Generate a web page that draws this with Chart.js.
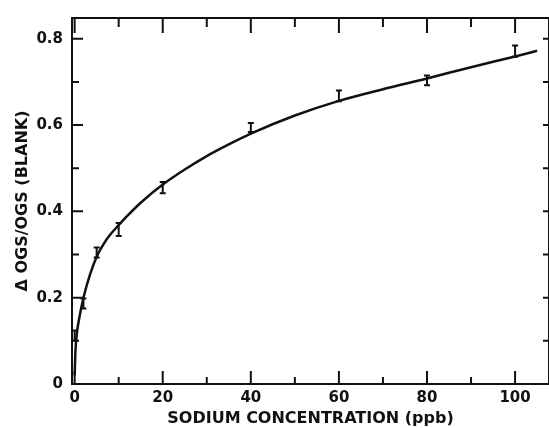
<!DOCTYPE html>
<html>
<head>
<meta charset="utf-8">
<script src="https://cdn.jsdelivr.net/npm/chart.js@4/dist/chart.umd.min.js"></script>
<style>
  html, body { margin: 0; padding: 0; background: #fff; }
  #wrap { width: 549px; height: 428px; }
</style>
</head>
<body>
<div id="wrap"><canvas id="myChart"></canvas></div>
<script>
// fitted curve
var curveX = [0, 0.2, 0.5, 1, 2, 3.5, 5, 6.5, 8, 10, 12, 15, 20, 25, 30, 35, 40, 50, 60, 70, 80, 90, 100, 105];
var curveY = [0.02, 0.08, 0.117, 0.15, 0.2, 0.254, 0.295, 0.323, 0.345, 0.368, 0.39, 0.42, 0.462, 0.497, 0.528, 0.555, 0.58, 0.622, 0.656, 0.683, 0.708, 0.734, 0.759, 0.772];

// measured points (error bars)
var sodium = [0, 2, 5, 10, 20, 40, 60, 80, 100];
var errLow = [0.101, 0.175, 0.293, 0.343, 0.442, 0.584, 0.655, 0.692, 0.758];
var errHigh = [0.124, 0.198, 0.316, 0.373, 0.468, 0.605, 0.680, 0.715, 0.784];

var xTickValues = [0, 10, 20, 30, 40, 50, 60, 70, 80, 90, 100];
var xTickLabels = ['0', '', '20', '', '40', '', '60', '', '80', '', '100'];
var yTickValues = [0, 0.1, 0.2, 0.3, 0.4, 0.5, 0.6, 0.7, 0.8];
var yTickLabels = ['0', '', '0.2', '', '0.4', '', '0.6', '', '0.8'];

var ink = '#111';
var fontFam = '"DejaVu Sans", sans-serif';

var errorBars = {
  id: 'errorBars',
  afterDatasetsDraw: function(chart) {
    var ctx = chart.ctx;
    var xs = chart.scales.x, ys = chart.scales.y;
    ctx.save();
    ctx.strokeStyle = ink;
    ctx.lineWidth = 2;
    for (var i = 0; i < sodium.length; i++) {
      var px = xs.getPixelForValue(sodium[i]);
      var y1 = ys.getPixelForValue(errLow[i]);
      var y2 = ys.getPixelForValue(errHigh[i]);
      ctx.beginPath();
      ctx.moveTo(px, y1); ctx.lineTo(px, y2);
      ctx.moveTo(px - 3, y1); ctx.lineTo(px + 3, y1);
      ctx.moveTo(px - 3, y2); ctx.lineTo(px + 3, y2);
      ctx.stroke();
    }
    ctx.restore();
  }
};

// box round the plot, ticks pointing inwards on all four sides
var frame = {
  id: 'frame',
  afterDraw: function(chart) {
    var ctx = chart.ctx, a = chart.chartArea;
    var xs = chart.scales.x, ys = chart.scales.y;
    ctx.save();
    ctx.strokeStyle = ink;
    ctx.lineWidth = 2;
    ctx.strokeRect(a.left, a.top, a.right - a.left, a.bottom - a.top);
    ctx.beginPath();
    xTickValues.forEach(function(v, i) {
      var px = xs.getPixelForValue(v);
      var len = xTickLabels[i] ? 13 : 7;
      ctx.moveTo(px, a.bottom); ctx.lineTo(px, a.bottom - len);
      ctx.moveTo(px, a.top); ctx.lineTo(px, a.top + len + 2);
    });
    yTickValues.forEach(function(v, i) {
      if (v === 0) return;
      var py = ys.getPixelForValue(v);
      var len = yTickLabels[i] ? 11 : 7;
      ctx.moveTo(a.left, py); ctx.lineTo(a.left + len, py);
      ctx.moveTo(a.right, py); ctx.lineTo(a.right - 6, py);
    });
    ctx.stroke();
    ctx.restore();
  }
};

var points = curveX.map(function(x, i) { return { x: x, y: curveY[i] }; });

new Chart(document.getElementById('myChart'), {
  type: 'scatter',
  data: {
    datasets: [{
      data: points,
      showLine: true,
      borderColor: ink,
      borderWidth: 2.5,
      pointRadius: 0,
      cubicInterpolationMode: 'monotone',
      fill: false
    }]
  },
  options: {
    responsive: true,
    maintainAspectRatio: false,
    animation: false,
    events: [],
    layout: { padding: { top: 15, right: 0, left: 0, bottom: 0 } },
    plugins: { legend: { display: false }, tooltip: { enabled: false } },
    scales: {
      x: {
        type: 'linear',
        min: -0.6,
        max: 107.7,
        afterBuildTicks: function(s) { s.ticks = xTickValues.map(function(v) { return { value: v }; }); },
        afterFit: function(s) { s.height = 44; },
        grid: { display: false, drawTicks: false },
        border: { display: false },
        ticks: {
          color: ink,
          padding: 5,
          maxRotation: 0,
          autoSkip: false,
          font: { family: fontFam, size: 15, weight: 'bold' },
          callback: function(v, i) { return xTickLabels[i]; }
        },
        title: {
          display: true,
          text: 'SODIUM CONCENTRATION (ppb)',
          color: ink,
          padding: { top: 0, bottom: 0 },
          font: { family: fontFam, size: 16, weight: 'bold' }
        }
      },
      y: {
        type: 'linear',
        min: 0,
        max: 0.848,
        afterBuildTicks: function(s) { s.ticks = yTickValues.map(function(v) { return { value: v }; }); },
        afterFit: function(s) { s.width = 72; },
        grid: { display: false, drawTicks: false },
        border: { display: false },
        ticks: {
          color: ink,
          padding: 9,
          autoSkip: false,
          font: { family: fontFam, size: 15, weight: 'bold' },
          callback: function(v, i) { return yTickLabels[i]; }
        },
        title: {
          display: true,
          text: '\u0394 OGS/OGS (BLANK)',
          color: ink,
          padding: { top: 13, bottom: 0 },
          font: { family: fontFam, size: 16, weight: 'bold' }
        }
      }
    }
  },
  plugins: [errorBars, frame]
});
</script>
</body>
</html>
